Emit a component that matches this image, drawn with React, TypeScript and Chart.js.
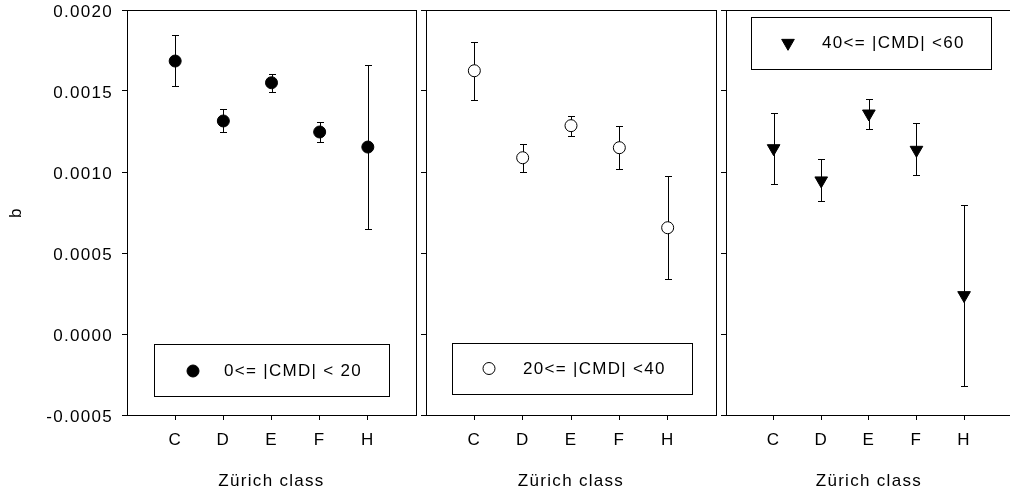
import React, { useEffect, useRef } from 'react';
import { Chart, registerables } from 'chart.js';

Chart.register(...registerables);

// ---------- data ----------
const categories = ['C', 'D', 'E', 'F', 'H'];
const yTickValues = [-0.0005, 0, 0.0005, 0.001, 0.0015, 0.002];
const xTitle = 'Zürich class';
const yTitle = 'b';

const series1Label = '0<= |CMD| < 20';
const series1Values = [0.001685, 0.001315, 0.001551, 0.001247, 0.001154];
const series1Upper = [0.001844, 0.001387, 0.001603, 0.001311, 0.001659];
const series1Lower = [0.001529, 0.001247, 0.001496, 0.001183, 0.000648];

const series2Label = '20<= |CMD| <40';
const series2Values = [0.001625, 0.001088, 0.001286, 0.00115, 0.000656];
const series2Upper = [0.001804, 0.001175, 0.001348, 0.001282, 0.000977];
const series2Lower = [0.001444, 0.001, 0.001222, 0.001017, 0.000338];

const series3Label = '40<= |CMD| <60';
const series3Values = [0.001146, 0.000947, 0.00136, 0.001136, 0.000239];
const series3Upper = [0.001364, 0.00108, 0.001448, 0.0013, 0.000796];
const series3Lower = [0.000924, 0.000819, 0.001265, 0.000981, -0.000319];

// ---------- styling / layout ----------
const FONT = "'Liberation Sans', Arial, Helvetica, sans-serif";
const FONT_SIZE = 17;
const SPACING = '1.3px';
const CANVAS_W = 1020;
const CANVAS_H = 496;
const INK = '#000';

type MarkerStyle = 'filled' | 'open' | 'triangle';

interface PanelSpec {
  label: string;
  values: number[];
  upper: number[];
  lower: number[];
  marker: MarkerStyle;
  padLeft: number;
  padRight: number;
  yAxisWidth: number;
  showYLabels: boolean;
  legendBox: { x: number; y: number; w: number; h: number; mx: number; tx: number; cy: number };
}

const panels: PanelSpec[] = [
  {
    label: series1Label, values: series1Values, upper: series1Upper, lower: series1Lower,
    marker: 'filled', padLeft: 0, padRight: CANVAS_W - 416, yAxisWidth: 127, showYLabels: true,
    legendBox: { x: 154, y: 344, w: 235, h: 52, mx: 193, tx: 224, cy: 371 },
  },
  {
    label: series2Label, values: series2Values, upper: series2Upper, lower: series2Lower,
    marker: 'open', padLeft: 406, padRight: CANVAS_W - 716, yAxisWidth: 20, showYLabels: false,
    legendBox: { x: 452, y: 343, w: 240, h: 51, mx: 489, tx: 523, cy: 368.5 },
  },
  {
    label: series3Label, values: series3Values, upper: series3Upper, lower: series3Lower,
    marker: 'triangle', padLeft: 706, padRight: 4, yAxisWidth: 20, showYLabels: false,
    legendBox: { x: 751, y: 17, w: 240, h: 52, mx: 788, tx: 822, cy: 43 },
  },
];

const MARK_R_CIRCLE = 6;
const MARK_R_TRI = 7.3;

function drawMarker(ctx: CanvasRenderingContext2D, style: MarkerStyle, x: number, y: number) {
  ctx.save();
  ctx.lineWidth = 1;
  ctx.strokeStyle = INK;
  ctx.beginPath();
  if (style === 'triangle') {
    let rad = Math.PI;
    const r = MARK_R_TRI;
    ctx.moveTo(x + Math.sin(rad) * r, y - Math.cos(rad) * r);
    rad += (2 * Math.PI) / 3;
    ctx.lineTo(x + Math.sin(rad) * r, y - Math.cos(rad) * r);
    rad += (2 * Math.PI) / 3;
    ctx.lineTo(x + Math.sin(rad) * r, y - Math.cos(rad) * r);
    ctx.closePath();
    ctx.fillStyle = INK;
  } else {
    ctx.arc(x, y, MARK_R_CIRCLE, 0, Math.PI * 2);
    ctx.fillStyle = style === 'open' ? '#fff' : INK;
  }
  ctx.fill();
  ctx.stroke();
  ctx.restore();
}

const spacingPlugin = {
  id: 'letterSpacing',
  beforeLayout(chart: any) { chart.ctx.letterSpacing = SPACING; },
  beforeDraw(chart: any) { chart.ctx.letterSpacing = SPACING; },
};

const framePlugin = {
  id: 'frame',
  beforeDatasetsDraw(chart: any) {
    const { ctx, chartArea } = chart;
    const { left, right, top, bottom } = chartArea;
    ctx.save();
    ctx.strokeStyle = INK;
    ctx.lineWidth = 1;
    ctx.beginPath();
    ctx.moveTo(Math.round(left), Math.round(top) + 0.5);
    ctx.lineTo(Math.round(right) + 1, Math.round(top) + 0.5);
    ctx.moveTo(Math.round(right) + 0.5, Math.round(top));
    ctx.lineTo(Math.round(right) + 0.5, Math.round(bottom));
    ctx.stroke();
    ctx.restore();
  },
};

const errorBarPlugin = {
  id: 'errorBars',
  beforeDatasetsDraw(chart: any, _args: any, opts: any) {
    const { ctx } = chart;
    const xs = chart.scales.x;
    const ys = chart.scales.y;
    const upper: number[] = opts.upper || [];
    const lower: number[] = opts.lower || [];
    ctx.save();
    ctx.strokeStyle = INK;
    ctx.lineWidth = 1;
    upper.forEach((hi, i) => {
      const px = Math.round(xs.getPixelForValue(i)) + 0.5;
      const yHi = Math.round(ys.getPixelForValue(hi)) + 0.5;
      const yLo = Math.round(ys.getPixelForValue(lower[i])) + 0.5;
      ctx.beginPath();
      ctx.moveTo(px, yHi);
      ctx.lineTo(px, yLo);
      ctx.moveTo(px - 3.5, yHi);
      ctx.lineTo(px + 3.5, yHi);
      ctx.moveTo(px - 3.5, yLo);
      ctx.lineTo(px + 3.5, yLo);
      ctx.stroke();
    });
    ctx.restore();
  },
};

const legendBoxPlugin = {
  id: 'legendBox',
  afterDraw(chart: any, _args: any, opts: any) {
    const { ctx } = chart;
    const b = opts.box;
    if (!b) return;
    ctx.save();
    ctx.fillStyle = '#fff';
    ctx.fillRect(b.x, b.y, b.w, b.h);
    ctx.strokeStyle = INK;
    ctx.lineWidth = 1;
    ctx.strokeRect(b.x + 0.5, b.y + 0.5, b.w, b.h);
    drawMarker(ctx, opts.marker, b.mx, b.cy);
    ctx.letterSpacing = SPACING;
    ctx.font = `${FONT_SIZE}px ${FONT}`;
    ctx.fillStyle = INK;
    ctx.textAlign = 'left';
    ctx.textBaseline = 'middle';
    ctx.fillText(opts.text, b.tx, b.cy + 0.5);
    ctx.restore();
  },
};

function buildConfig(p: PanelSpec): any {
  const pointStyle = p.marker === 'triangle' ? 'triangle' : 'circle';
  const font = { family: FONT, size: FONT_SIZE };
  return {
    type: 'scatter',
    data: {
      datasets: [
        {
          label: p.label,
          data: p.values.map((v, i) => ({ x: i, y: v })),
          pointStyle,
          rotation: p.marker === 'triangle' ? 180 : 0,
          pointRadius: p.marker === 'triangle' ? MARK_R_TRI : MARK_R_CIRCLE,
          pointHoverRadius: p.marker === 'triangle' ? MARK_R_TRI : MARK_R_CIRCLE,
          backgroundColor: p.marker === 'open' ? '#fff' : INK,
          borderColor: INK,
          borderWidth: 1,
          showLine: false,
        },
      ],
    },
    options: {
      responsive: false,
      animation: false,
      events: [],
      layout: { padding: { left: p.padLeft, right: p.padRight, top: 10, bottom: 0 } },
      plugins: {
        legend: { display: false },
        tooltip: { enabled: false },
        errorBars: { upper: p.upper, lower: p.lower },
        legendBox: { box: p.legendBox, marker: p.marker, text: p.label },
      },
      scales: {
        x: {
          type: 'linear',
          position: 'bottom',
          min: -1,
          max: 5,
          afterBuildTicks: (axis: any) => {
            axis.ticks = categories.map((_, i) => ({ value: i }));
          },
          afterFit: (axis: any) => {
            axis.height = 81;
            axis.paddingLeft = 0;
            axis.paddingRight = 0;
          },
          ticks: {
            callback: (v: any) => categories[v] ?? '',
            font,
            color: INK,
            padding: 10,
            maxRotation: 0,
            autoSkip: false,
          },
          grid: { drawOnChartArea: false, drawTicks: true, tickLength: 5, color: INK, lineWidth: 1 },
          border: { display: true, color: INK, width: 1 },
          title: {
            display: true,
            text: xTitle,
            font,
            color: INK,
            padding: { top: 0, bottom: 4 },
          },
        },
        y: {
          type: 'linear',
          position: 'left',
          min: -0.0005,
          max: 0.002,
          afterBuildTicks: (axis: any) => {
            axis.ticks = yTickValues.map((v) => ({ value: v }));
          },
          afterFit: (axis: any) => {
            axis.width = p.yAxisWidth;
            axis.paddingTop = 0;
            axis.paddingBottom = 0;
          },
          ticks: {
            display: p.showYLabels,
            callback: (v: any) => Number(v).toFixed(4),
            font,
            color: INK,
            padding: 9,
            labelOffset: 2,
          },
          grid: { drawOnChartArea: false, drawTicks: true, tickLength: 5, color: INK, lineWidth: 1 },
          border: { display: true, color: INK, width: 1 },
          title: {
            display: p.showYLabels,
            text: yTitle,
            font,
            color: INK,
            padding: { top: 6, bottom: 0 },
          },
        },
      },
    },
    plugins: [spacingPlugin, framePlugin, errorBarPlugin, legendBoxPlugin],
  };
}

function Panel({ spec }: { spec: PanelSpec }) {
  const ref = useRef<HTMLCanvasElement | null>(null);
  useEffect(() => {
    if (!ref.current) return;
    const chart = new Chart(ref.current, buildConfig(spec));
    return () => chart.destroy();
  }, [spec]);
  return (
    <canvas
      ref={ref}
      width={CANVAS_W}
      height={CANVAS_H}
      style={{ position: 'absolute', left: 0, top: 0, width: CANVAS_W, height: CANVAS_H, display: 'block' }}
    />
  );
}

export default function App() {
  return (
    <div
      style={{
        position: 'fixed',
        left: 0,
        top: 0,
        width: 1010,
        height: 496,
        overflow: 'hidden',
        background: '#fff',
      }}
    >
      {panels.map((p, i) => (
        <Panel key={i} spec={p} />
      ))}
    </div>
  );
}
